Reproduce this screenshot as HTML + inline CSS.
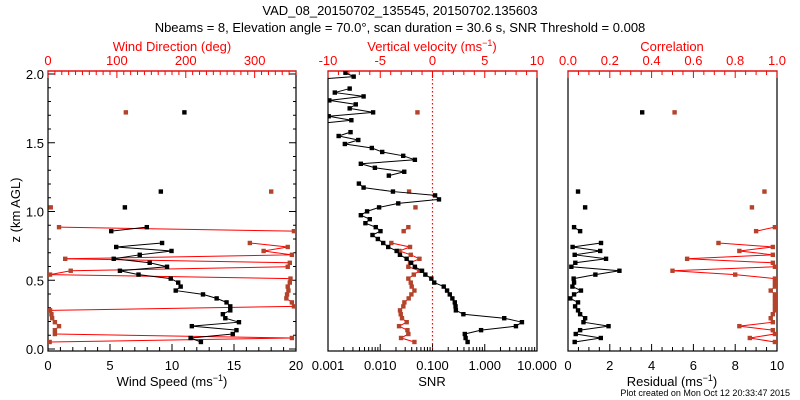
<!DOCTYPE html>
<html><head><meta charset="utf-8"><style>
body{margin:0;background:#fff;}
svg{display:block;font-family:"Liberation Sans",sans-serif;}
</style></head><body>
<svg id="c" width="800" height="400" viewBox="0 0 800 400">
<text x="400" y="15" font-size="13" text-anchor="middle">VAD_08_20150702_135545, 20150702.135603</text>
<text x="400" y="32" font-size="13" text-anchor="middle">Nbeams = 8, Elevation angle = 70.0°, scan duration = 30.6 s, SNR Threshold = 0.008</text>
<text x="790" y="396" font-size="9" text-anchor="end">Plot created on Mon Oct 12 20:33:47 2015</text>
<text transform="translate(20,210) rotate(-90)" font-size="13" text-anchor="middle">z (km AGL)</text>
</svg>
<script>
const heights=[0.051,0.080,0.109,0.137,0.166,0.195,0.224,0.253,0.281,0.310,0.339,0.368,0.397,0.425,0.454,0.483,0.512,0.541,0.569,0.598,0.627,0.656,0.685,0.713,0.742,0.771,0.800,0.829,0.857,0.886,0.915,0.944,0.973,1.001,1.030,1.059,1.088,1.117,1.145,1.174,1.203,1.232,1.261,1.289,1.318,1.347,1.376,1.405,1.433,1.462,1.491,1.520,1.549,1.577,1.606,1.635,1.664,1.693,1.721,1.750,1.779,1.808,1.837,1.865,1.894,1.923,1.952,1.981,2.009];
const gates=[0,1,2,3,4,5,6,7,8,9,10,11,12,13,14,15,16,17,18,19,20,21,22,23,24,25,28,29,34,38,58];
const windSpeed=[12.33,11.5,14.9,15.2,11.6,15.4,14.3,14.1,14.7,14.7,14.4,13.6,12.5,10.3,10.7,10.5,9.9,7.3,5.8,9.6,8.2,5.3,7.4,9.96,5.5,9.2,5.1,7.97,6.2,9.1,11.0];
const windDir=[2.4,354,10,10,16,10,6,5,3,357,354,346,347,349,348,351,352,3,33,348,351,25,354,313,348,293,357,16,4,324,113];
const vertVel=[-1.73,-3.01,-2.31,-2.40,-3.2,-2.47,-2.92,-3.04,-3.11,-2.79,-2.69,-2.28,-2.02,-1.73,-1.99,-2.08,-2.31,-1.79,-1.25,-2.31,-2.15,-1.25,-2.08,-3.17,-2.15,-3.94,-2.76,-2.31,-1.63,-2.24,-1.44];
const residual=[0.32,1.57,0.37,0.58,1.94,0.74,0.82,0.58,0.48,0.34,0.48,0.11,0.29,0.62,0.21,0.29,0.27,1.31,2.46,0.16,0.35,1.82,0.32,1.54,0.22,1.58,0.58,0.29,0.82,0.48,3.55];
const correlation=[0.99,0.87,0.99,0.98,0.82,0.98,0.97,0.98,0.99,0.99,0.99,0.99,0.99,0.97,0.99,0.99,0.99,0.80,0.50,0.99,0.98,0.57,0.98,0.82,0.98,0.72,0.90,0.99,0.88,0.94,0.51];
const snr=[0.47,0.43,0.415,0.85,3.95,5.15,2.36,0.39,0.28,0.276,0.267,0.24,0.214,0.19,0.164,0.108,0.095,0.073,0.063,0.046,0.039,0.032,0.0238,0.0206,0.0142,0.0114,0.009,0.0071,0.0101,0.0082,0.0052,0.0063,0.00425,0.0056,0.0095,0.0221,0.133,0.112,0.0175,0.0048,0.0039,null,0.0146,0.0288,0.0079,0.00425,0.046,0.0275,0.0109,0.0069,0.0021,0.0038,0.0016,0.0027,null,0.0005,0.0028,0.00103,0.0073,0.0026,0.0034,0.00106,0.0048,0.00135,0.0026,null,0.0003,0.0031,0.00216];
const yTicks=["0.0","0.5","1.0","1.5","2.0"];
const wsTicks=["0","5","10","15","20"];
const wdTicks=["0","100","200","300"];
const vvTicks=["-10","-5","0","5","10"];
const snrTicks=["0.001","0.010","0.100","1.000","10.000"];
const corrTicks=["0.0","0.2","0.4","0.6","0.8","1.0"];
const resTicks=["0","2","4","6","8","10"];

const NS="http://www.w3.org/2000/svg";
const svg=document.getElementById('c');
const RED="#ff0000",BROWN="#b3432b";
const yTop=71,yBot=351;
const yz=z=>349-z*137.5;
function mk(tag,attrs,parent){const e=document.createElementNS(NS,tag);for(const k in attrs)e.setAttribute(k,attrs[k]);(parent||svg).appendChild(e);return e;}
const P1={x0:48,x1:296},P2={x0:328,x1:537},P3={x0:568,x1:777};
function lin(p,a,b){return v=>p.x0+(v-a)/(b-a)*(p.x1-p.x0);}
const xWS=lin(P1,0,20),xWD=lin(P1,0,360),xVV=lin(P2,-10,10),xRes=lin(P3,0,10),xCorr=lin(P3,0,1);
const xSNR=v=>P2.x0+(Math.log10(v)+3)/4*(P2.x1-P2.x0);

function panel(p,id){
  const cp=mk('clipPath',{id:id});mk('rect',{x:p.x0,y:yTop,width:p.x1-p.x0,height:yBot-yTop},cp);
  const r=mk('rect',{x:p.x0,y:yTop,width:p.x1-p.x0,height:yBot-yTop,fill:'none',stroke:'#000','stroke-width':1.2});
  
  
  const top=mk('line',{x1:p.x0,y1:yTop,x2:p.x1,y2:yTop,stroke:RED,'stroke-width':1.2});
  
  
}
function tick(x,y,dy,col){mk('line',{x1:x,y1:y,x2:x,y2:y+dy,stroke:col,'stroke-width':1});}
function label(x,y,t,col,name,anchor){const e=mk('text',{x:x,y:y,'font-size':13,fill:col,'text-anchor':anchor||'middle'});e.textContent=t;
  
  return e;}
function linTicks(p,sc,a,b,major,minor,labels,col,isTop){
  const n=Math.round((b-a)/minor);
  for(let i=0;i<=n;i++){const v=a+i*minor;const isM=Math.abs((v-a)/major-Math.round((v-a)/major))<1e-6;const x=sc(v);
    if(isTop)tick(x,yTop,isM?7:4,col);else tick(x,yBot,isM?-7:-4,col);}
  labels.forEach((t,i)=>label(sc(a+i*major),isTop?65:370,t,col,(isTop?'top':'bottom')+'-tick-label'));
}
panel(P1,'wind-panel');panel(P2,'snr-panel');panel(P3,'residual-panel');
for(let i=0;i<=20;i++){const z=i*0.1,y=yz(z),m=i%5==0;
  mk('line',{x1:P1.x0,y1:y,x2:P1.x0+(m?7:3),y2:y,stroke:'#000'});mk('line',{x1:P1.x1,y1:y,x2:P1.x1-(m?7:3),y2:y,stroke:'#000'});}
yTicks.forEach((t,i)=>label(44,yz(i*0.5)+5,t,'#000','y-tick-label','end'));
linTicks(P1,xWS,0,20,5,1,wsTicks,'#000',false);
linTicks(P1,xWD,0,300,100,10,wdTicks,RED,true);
for(let v=310;v<=360;v+=10)tick(xWD(v),yTop,4,RED);
linTicks(P2,xVV,-10,10,5,1,vvTicks,RED,true);
for(let d=-3;d<=1;d++){for(let k=1;k<=9;k++){const v=k*Math.pow(10,d);if(v>10)break;tick(xSNR(v),yBot,k==1?-7:-4,'#000');}}
snrTicks.forEach((t,i)=>label(xSNR(Math.pow(10,i-3)),370,t,'#000','bottom-tick-label'));
linTicks(P3,xCorr,0,1,0.2,0.05,corrTicks,RED,true);
linTicks(P3,xRes,0,10,2,0.5,resTicks,'#000',false);
function title(x,y,html,col,name){const e=mk('text',{x:x,y:y,'font-size':13,fill:col,'text-anchor':'middle'});e.innerHTML=html;
  
  }
title(172,51,'Wind Direction (deg)',RED,'wind-direction-axis-title');
title(432,51,'Vertical velocity (ms<tspan dy="-5" font-size="9">−1</tspan><tspan dy="5">)</tspan>',RED,'vertical-velocity-axis-title');
title(672,51,'Correlation',RED,'correlation-axis-title');
title(172,386,'Wind Speed (ms<tspan dy="-5" font-size="9">−1</tspan><tspan dy="5">)</tspan>','#000','wind-speed-axis-title');
title(432,386,'SNR','#000','snr-axis-title');
title(672,386,'Residual (ms<tspan dy="-5" font-size="9">−1</tspan><tspan dy="5">)</tspan>','#000','residual-axis-title');
const zl=mk('line',{x1:xVV(0),y1:yTop,x2:xVV(0),y2:yBot,stroke:RED,'stroke-dasharray':'1.5,2.5','stroke-width':1.2});



function series(idx,vals,sc,col,mcol,clip,name){
  const g=mk('g',{'clip-path':'url(#'+clip+')'});
  
  
  for(let k=1;k<idx.length;k++){
    if(idx[k]-idx[k-1]!==1||vals[k]==null||vals[k-1]==null)continue;
    mk('line',{x1:sc(vals[k-1]),y1:yz(heights[idx[k-1]]),x2:sc(vals[k]),y2:yz(heights[idx[k]]),stroke:col,'stroke-width':1},g);
  }
  idx.forEach((gi,k)=>{if(vals[k]==null)return;
    const m=mk('rect',{x:sc(vals[k])-2.2,y:yz(heights[gi])-2.2,width:4.4,height:4.4,fill:mcol},g);
    
    });
}
series(gates,windDir,xWD,RED,BROWN,'wind-panel','wind-direction-series');
series(gates,windSpeed,xWS,'#000','#000','wind-panel','wind-speed-series');
series(gates,vertVel,xVV,RED,BROWN,'snr-panel','vertical-velocity-series');
const allIdx=heights.map((h,i)=>i);
series(allIdx,snr,xSNR,'#000','#000','snr-panel','snr-series');
series(gates,correlation,xCorr,RED,BROWN,'residual-panel','correlation-series');
series(gates,residual,xRes,'#000','#000','residual-panel','residual-series');
</script>
</body></html>
